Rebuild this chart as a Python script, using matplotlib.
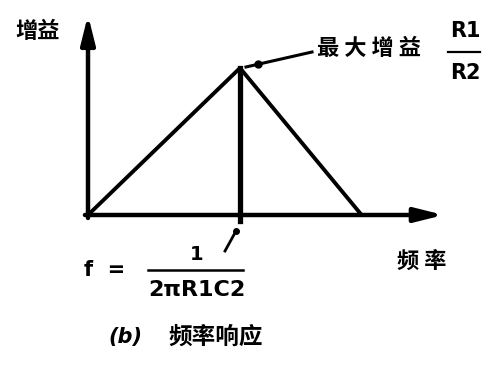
import matplotlib.pyplot as plt

plt.rcParams['font.family'] = ['Noto Sans CJK SC', 'DejaVu Sans']

# frequency response, normalised: frequency in units of f = 1/(2*pi*R1*C2),
# gain in units of the maximum gain R1/R2
freq = [0.0, 1.0, 1.8]
gain = [0.0, 1.0, 0.0]
f_corner = 1.0
gain_max = 1.0
x_axis_end = 2.34
y_axis_end = 1.36

y_label = "增益"
x_label = "频 率"
peak_label = "最 大 增 益"
caption_tag = "(b)"
caption = "频率响应"


def px(x, y):
    # picture pixels -> data units (origin at 88,215, 152 px per unit across, 147 up)
    return ((x - 88) / 152, (215 - y) / 147)


fig = plt.figure(figsize=(4.92, 3.68), dpi=100)
ax = fig.add_axes([0, 0, 1, 1])
ax.set_xlim(-88 / 152, (492 - 88) / 152)
ax.set_ylim((215 - 368) / 147, 215 / 147)
ax.axis('off')

arrow = dict(arrowstyle='-|>,head_length=1.0,head_width=0.25', lw=3.2,
             color='black', mutation_scale=17, shrinkA=0, shrinkB=0)
ax.annotate('', xy=(x_axis_end, 0), xytext=(-0.02, 0), arrowprops=arrow)
ax.annotate('', xy=(0, y_axis_end), xytext=(0, -0.02), arrowprops=arrow)

ax.plot(freq, gain, color='black', lw=2.8, solid_capstyle='round',
        solid_joinstyle='round')
ax.plot([f_corner, f_corner], [gain_max, -0.04], color='black', lw=3.8)

# leader to the peak
ax.plot(*zip(px(246, 67), px(312, 52)), color='black', lw=2.2)
ax.plot(*px(258, 64), 'o', color='black', ms=5)
ax.text(*px(317, 48), peak_label, fontsize=16, fontweight='bold',
        ha='left', va='center')
ax.text(*px(465, 31), "R1", fontsize=15, fontweight='bold', ha='center',
        va='center', family='DejaVu Sans')
ax.plot(*zip(px(448, 52), px(480, 52)), color='black', lw=1.6)
ax.text(*px(465, 73), "R2", fontsize=15, fontweight='bold', ha='center',
        va='center', family='DejaVu Sans')

ax.text(*px(38, 32), y_label, fontsize=16, fontweight='bold',
        ha='center', va='center')
ax.text(*px(422, 261), x_label, fontsize=16, fontweight='bold',
        ha='center', va='center')

# pointer to the corner frequency
ax.plot(*zip(px(225, 251), px(236, 231)), color='black', lw=2.0)
ax.plot(*px(236, 231), 'o', color='black', ms=4)
ax.text(*px(84, 270), "f  =", fontsize=15, fontweight='bold',
        ha='left', va='center', family='DejaVu Sans')
ax.text(*px(197, 254), "1", fontsize=14, fontweight='bold',
        ha='center', va='center', family='DejaVu Sans')
ax.plot(*zip(px(148, 270), px(243, 270)), color='black', lw=1.8)
ax.text(*px(197, 290), "2πR1C2", fontsize=16, fontweight='bold',
        ha='center', va='center', family='DejaVu Sans')

ax.text(*px(108, 337), caption_tag, fontsize=15, fontweight='bold',
        style='italic', ha='left', va='center', family='DejaVu Sans')
ax.text(*px(168, 337), caption, fontsize=17, fontweight='bold',
        ha='left', va='center')

fig.savefig("out.png", dpi=100)
